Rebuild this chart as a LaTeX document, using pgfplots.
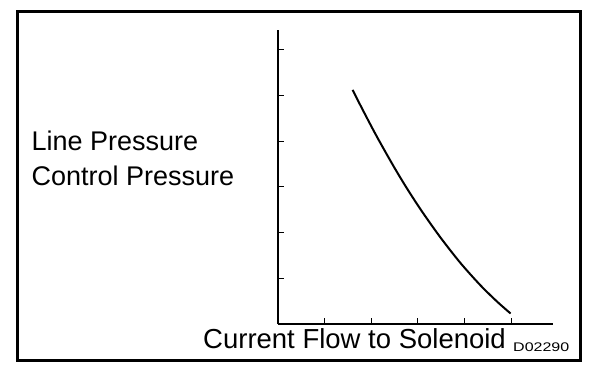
\documentclass[border=0pt]{standalone}
\usepackage{pgfplots}
\pgfplotsset{compat=1.18}
\usepackage{fontspec}
\setmainfont{Liberation Sans}
\begin{document}
\begin{tikzpicture}[x=1pt,y=1pt]
\useasboundingbox (0,0) rectangle (608,384);
\draw[line width=3pt] (17,372) rectangle (580,24);
\node[anchor=base west,inner sep=0pt,font=\fontsize{27}{27}\selectfont] at (31.5,234) {Line Pressure};
\node[anchor=base west,inner sep=0pt,font=\fontsize{27}{27}\selectfont] at (31.5,198.5) {Control Pressure};
\node[anchor=base west,inner sep=0pt,font=\fontsize{27.5}{27.5}\selectfont] at (203,35.5) {Current Flow to Solenoid};
\node[anchor=base west,inner sep=0pt] at (513,32.5) {\scalebox{1.28}[1]{\fontsize{12.5}{12.5}\selectfont D02290}};
\begin{axis}[
  at={(278pt,60pt)}, anchor=origin,
  scale only axis, width=275pt, height=294pt,
  xmin=0, xmax=5.9, ymin=0, ymax=6.43,
  axis lines=left, axis line style={-, line width=1.2pt},
  xtick={1,2,3,4,5}, ytick={1,2,3,4,5,6},
  xticklabels={}, yticklabels={},
  tick align=inside, major tick length=6pt,
  tick style={black, line width=1pt},
  clip=false,
]
\addplot[black, line width=2pt, smooth, no markers] coordinates {
(1.60,5.12) (1.83,4.66) (2.12,4.10) (2.48,3.45) (2.77,2.96) (3.09,2.46)
(3.48,1.90) (3.91,1.34) (4.34,0.85) (4.70,0.49) (4.99,0.23)
};
\end{axis}
\end{tikzpicture}
\end{document}
